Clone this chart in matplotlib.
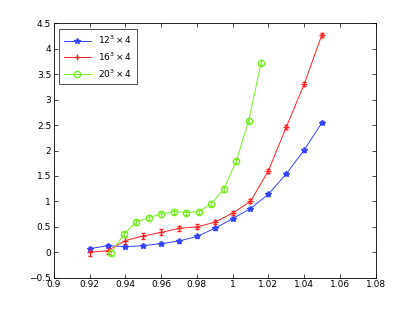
import numpy as np
import matplotlib
matplotlib.use("Agg")
import matplotlib.pyplot as plt

# data
x12 = [0.92, 0.93, 0.94, 0.95, 0.96, 0.97, 0.98, 0.99, 1.00, 1.01, 1.02, 1.03, 1.04, 1.05]
y12 = [0.07, 0.13, 0.11, 0.13, 0.17, 0.22, 0.31, 0.47, 0.66, 0.86, 1.14, 1.54, 2.01, 2.55]
e12 = [0.03, 0.03, 0.03, 0.03, 0.03, 0.03, 0.03, 0.03, 0.03, 0.03, 0.03, 0.03, 0.03, 0.03]

x16 = [0.92, 0.93, 0.94, 0.95, 0.96, 0.97, 0.98, 0.99, 1.00, 1.01, 1.02, 1.03, 1.04, 1.05]
y16 = [0.00, 0.03, 0.23, 0.32, 0.39, 0.47, 0.50, 0.59, 0.77, 1.00, 1.60, 2.46, 3.30, 4.28]
e16 = [0.07, 0.07, 0.07, 0.06, 0.06, 0.05, 0.05, 0.04, 0.04, 0.04, 0.04, 0.04, 0.04, 0.04]

x20 = [0.932, 0.939, 0.946, 0.953, 0.960, 0.967, 0.974, 0.981, 0.988, 0.995, 1.002, 1.009, 1.016]
y20 = [-0.01, 0.35, 0.59, 0.68, 0.75, 0.80, 0.78, 0.80, 0.95, 1.24, 1.79, 2.59, 3.73]
e20 = [0.05, 0.05, 0.05, 0.05, 0.05, 0.05, 0.05, 0.05, 0.05, 0.05, 0.05, 0.05, 0.05]

labels = [r"$12^3\times 4$", r"$16^3\times 4$", r"$20^3\times 4$"]

plt.rcParams["font.size"] = 6.5
fig = plt.figure(figsize=(4.15, 3.12), dpi=100)
ax = fig.add_axes([0.13, 0.11, 0.775, 0.815])

c1 = ax.errorbar(x12, y12, yerr=e12, color="#3344ff", marker="*", ms=4, lw=0.7,
                 elinewidth=0.6, capsize=1.5)
c2 = ax.errorbar(x16, y16, yerr=e16, color="#ff2020", marker="+", ms=5, lw=0.7,
                 elinewidth=0.6, capsize=1.5)
c3 = ax.errorbar(x20, y20, yerr=e20, color="#77ee22", marker="o", ms=4.5, mfc="none",
                 lw=0.7, elinewidth=0.6, capsize=1.5)

ax.set_xlim(0.9, 1.08)
ax.set_ylim(-0.5, 4.5)
ax.set_xticks(np.arange(0.9, 1.081, 0.02))
ax.set_xticklabels(["0.9", "0.92", "0.94", "0.96", "0.98", "1", "1.02", "1.04", "1.06", "1.08"])
ax.set_yticks(np.arange(-0.5, 4.51, 0.5))
ax.set_yticklabels(["\u22120.5", "0", "0.5", "1", "1.5", "2", "2.5", "3", "3.5", "4", "4.5"])
ax.tick_params(direction="in", top=True, right=True, length=3, width=0.5, pad=2)
for s in ax.spines.values():
    s.set_linewidth(0.6)

leg = ax.legend([c1.lines[0], c2.lines[0], c3.lines[0]], labels, loc="upper left",
                fancybox=False, edgecolor="black", borderaxespad=0.6,
                handlelength=3, labelspacing=0.5, borderpad=0.5)
leg.get_frame().set_linewidth(0.6)

fig.savefig("out.png", dpi=100)
